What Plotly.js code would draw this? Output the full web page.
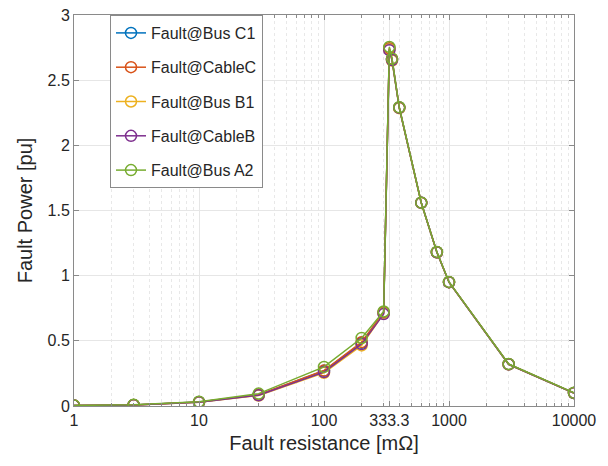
<!DOCTYPE html>
<html>
<head>
<meta charset="utf-8">
<script src="https://cdn.plot.ly/plotly-3.0.1.min.js"></script>
<style>html,body{margin:0;padding:0;background:#fff;}#chart{width:608px;height:466px;}</style>
</head>
<body>
<div id="chart"></div>
<script>
// Fault resistance [mΩ]
const resistance = [1, 3, 10, 30, 100, 200, 300, 333.3, 350, 400, 600, 800, 1000, 3000, 10000];
const seriesNames = ["Fault@Bus C1", "Fault@CableC", "Fault@Bus B1", "Fault@CableB", "Fault@Bus A2"];
const busC1  = [0.003, 0.008, 0.030, 0.085, 0.270, 0.485, 0.715, 2.740, 2.660, 2.290, 1.560, 1.180, 0.950, 0.320, 0.100];
const cableC = [0.003, 0.008, 0.030, 0.086, 0.272, 0.490, 0.720, 2.745, 2.665, 2.290, 1.560, 1.180, 0.950, 0.320, 0.100];
const busB1  = [0.003, 0.007, 0.028, 0.080, 0.255, 0.465, 0.710, 2.735, 2.650, 2.285, 1.558, 1.180, 0.950, 0.320, 0.100];
const cableB = [0.003, 0.007, 0.029, 0.082, 0.260, 0.475, 0.705, 2.730, 2.655, 2.288, 1.559, 1.180, 0.950, 0.320, 0.100];
const busA2  = [0.004, 0.010, 0.033, 0.095, 0.300, 0.522, 0.725, 2.755, 2.665, 2.292, 1.560, 1.182, 0.952, 0.322, 0.101];
const xTickVals = [1, 10, 100, 333.3, 1000, 10000];
const xTickText = ["1", "10", "100", "333.3", "1000", "10000"];
const yTickVals = [0, 0.5, 1, 1.5, 2, 2.5, 3];
const yTickText = ["0", "0.5", "1", "1.5", "2", "2.5", "3"];

const colors = ["#0072BD", "#D95319", "#EDB120", "#7E2F8E", "#77AC30"];
const allSeries = [busC1, cableC, busB1, cableB, busA2];

const traces = allSeries.map((ys, i) => ({
  type: "scatter",
  mode: "lines+markers",
  x: resistance,
  y: ys,
  name: seriesNames[i],
  legendgroup: "g" + i,
  line: {color: colors[i], width: 1.5},
  marker: {symbol: "circle-open", size: 11, color: colors[i], line: {width: 1.5, color: colors[i]}}
}));

const fontFam = "Liberation Sans, Arial, Helvetica, sans-serif";
const axisCol = "#8a8a8a";
const layout = {
  width: 608, height: 466,
  margin: {l: 74, r: 34, t: 15, b: 60},
  paper_bgcolor: "#ffffff",
  plot_bgcolor: "#ffffff",
  font: {family: fontFam, color: "#262626", size: 16},
  showlegend: true,
  legend: {
    x: 0.072, y: 1, xanchor: "left", yanchor: "top",
    bgcolor: "#ffffff", bordercolor: "#8a8a8a", borderwidth: 1,
    font: {family: fontFam, size: 16, color: "#262626"},
    traceorder: "grouped", tracegroupgap: 10.5
  },
  xaxis: {
    type: "log", range: [0, 4],
    tickmode: "array", tickvals: xTickVals, ticktext: xTickText,
    ticks: "inside", ticklen: 5, tickcolor: axisCol,
    showline: true, linecolor: axisCol, linewidth: 1, mirror: "ticks",
    showgrid: true, gridcolor: "#e6e6e6", gridwidth: 1,
    minor: {dtick: "D1", showgrid: true, gridcolor: "#e8e8e8", griddash: "dot", ticks: "inside", ticklen: 3, tickcolor: axisCol},
    zeroline: false,
    tickfont: {size: 16, color: "#262626"},
    title: {text: "Fault resistance [mΩ]", font: {size: 20, color: "#262626"}, standoff: 7}
  },
  yaxis: {
    range: [0, 3],
    tickmode: "array", tickvals: yTickVals, ticktext: yTickText,
    ticks: "inside", ticklen: 5, tickcolor: axisCol,
    showline: true, linecolor: axisCol, linewidth: 1, mirror: "ticks",
    showgrid: true, gridcolor: "#e6e6e6", gridwidth: 1,
    zeroline: false,
    tickfont: {size: 16, color: "#262626"},
    title: {text: "Fault Power [pu]", font: {size: 20, color: "#262626"}, standoff: 9}
  }
};

Plotly.newPlot("chart", traces, layout, {displayModeBar: false, staticPlot: true});
</script>
</body>
</html>
